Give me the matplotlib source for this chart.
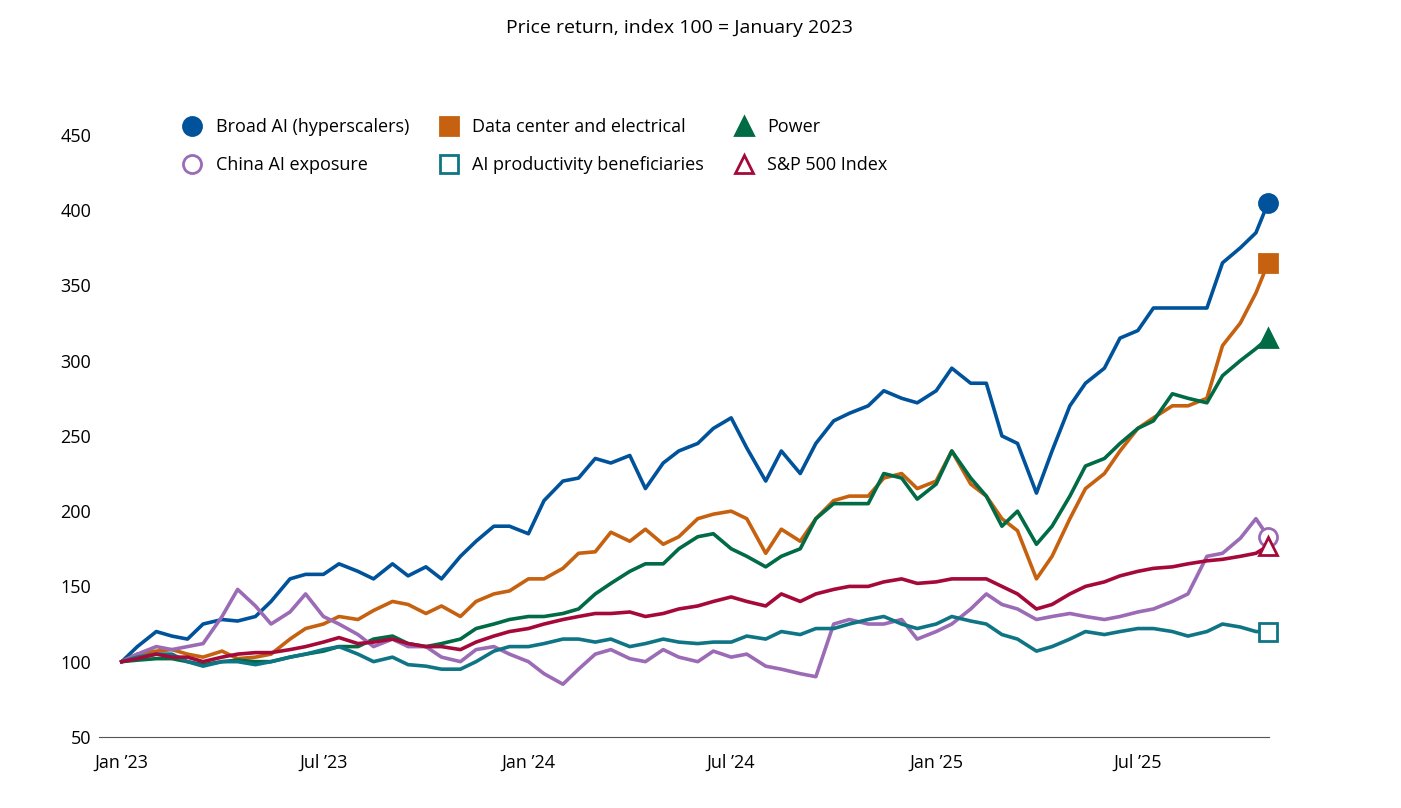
import matplotlib
matplotlib.use("Agg")
import matplotlib.pyplot as plt
import pandas as pd

dates = list(pd.date_range("2023-01-01", periods=68, freq="SMS")) + [pd.Timestamp("2025-10-26")]

broad_ai = [100,110,120,117,115,125,128,127,130,140,155,158,158,165,160,155,165,157,163,155,170,180,190,190,185,207,220,222,235,232,237,215,232,240,245,255,262,242,220,240,225,245,260,265,270,280,275,272,280,295,285,285,250,245,212,240,270,285,295,315,320,335,335,335,335,365,375,385,405]
data_center = [100,105,107,108,105,103,107,102,103,105,115,122,125,130,128,134,140,138,132,137,130,140,145,147,155,155,162,172,173,186,180,188,178,183,195,198,200,195,172,188,180,195,207,210,210,222,225,215,220,240,218,210,195,187,155,170,195,215,225,240,255,262,270,270,275,310,325,345,365]
power = [100,101,102,102,100,98,100,101,100,100,103,105,107,110,110,115,117,112,110,112,115,122,125,128,130,130,132,135,145,152,160,165,165,175,183,185,175,170,163,170,175,195,205,205,205,225,222,208,218,240,222,210,190,200,178,190,210,230,235,245,255,260,278,275,272,290,300,308,315]
china_ai = [100,105,110,108,110,112,130,148,137,125,133,145,130,125,118,110,115,110,110,103,100,108,110,105,100,92,85,95,105,108,102,100,108,103,100,107,103,105,97,95,92,90,125,128,125,125,128,115,120,125,135,145,138,135,128,130,132,130,128,130,133,135,140,145,170,172,182,195,183]
ai_productivity = [100,103,105,105,100,97,100,100,98,100,103,105,108,110,105,100,103,98,97,95,95,100,107,110,110,112,115,115,113,115,110,112,115,113,112,113,113,117,115,120,118,122,122,125,128,130,125,122,125,130,127,125,118,115,107,110,115,120,118,120,122,122,120,117,120,125,123,120,120]
sp500 = [100,102,105,103,103,100,103,105,106,106,108,110,113,116,112,113,115,112,110,110,108,113,117,120,122,125,128,130,132,132,133,130,132,135,137,140,143,140,137,145,140,145,148,150,150,153,155,152,153,155,155,155,150,145,135,138,145,150,153,157,160,162,163,165,167,168,170,172,177]

series = [
    ("Broad AI (hyperscalers)", broad_ai, "#00539B", "o", True),
    ("Data center and electrical", data_center, "#C5610F", "s", True),
    ("Power", power, "#006B45", "^", True),
    ("China AI exposure", china_ai, "#9B6BB5", "o", False),
    ("AI productivity beneficiaries", ai_productivity, "#0F7585", "s", False),
    ("S&P 500 Index", sp500, "#A5093A", "^", False),
]
tick_labels = ["Jan \u201923", "Jul \u201923", "Jan \u201924", "Jul \u201924", "Jan \u201925", "Jul \u201925"]
tick_dates = pd.to_datetime(["2023-01-01","2023-07-01","2024-01-01","2024-07-01","2025-01-01","2025-07-01"])

plt.rcParams["font.family"] = ["Open Sans", "DejaVu Sans"]
fig = plt.figure(figsize=(14.01, 8.08), dpi=100)
ax = fig.add_axes([0.071, 0.088, 0.835, 0.745])
for name, vals, col, mk, filled in series:
    ax.plot(dates, vals, color=col, lw=2.6)
    ax.plot(dates[-1:], vals[-1:], marker=mk, ls="none", markersize=13,
            color=col, markerfacecolor=col if filled else "white", markeredgewidth=2, clip_on=False)

handles = []
for name, vals, col, mk, filled in series:
    h, = ax.plot([], [], marker=mk, ls="none", markersize=13, color=col,
                 markerfacecolor=col if filled else "white", markeredgewidth=2, label=name)
    handles.append(h)
order = [0, 3, 1, 4, 2, 5]
ax.legend(handles=[handles[i] for i in order], ncol=3, loc="upper left", bbox_to_anchor=(0.05, 1.055),
          frameon=False, fontsize=13, handletextpad=0.3, columnspacing=1.2, labelspacing=1.1)

ax.set_ylim(50, 450)
ax.set_yticks(range(50, 451, 50))
ax.set_xlim(pd.Timestamp("2022-12-12"), pd.Timestamp("2025-10-27"))
ax.set_xticks(tick_dates)
ax.set_xticklabels(tick_labels)
ax.tick_params(length=0, labelsize=13, pad=12)
for s in ["top", "right", "left"]:
    ax.spines[s].set_visible(False)
ax.spines["bottom"].set_color("#555555")
ax.yaxis.set_tick_params(pad=6)
fig.text(0.485, 0.965, "Price return, index 100 = January 2023", ha="center", va="center", fontsize=14)
fig.savefig("out.png", dpi=100)
